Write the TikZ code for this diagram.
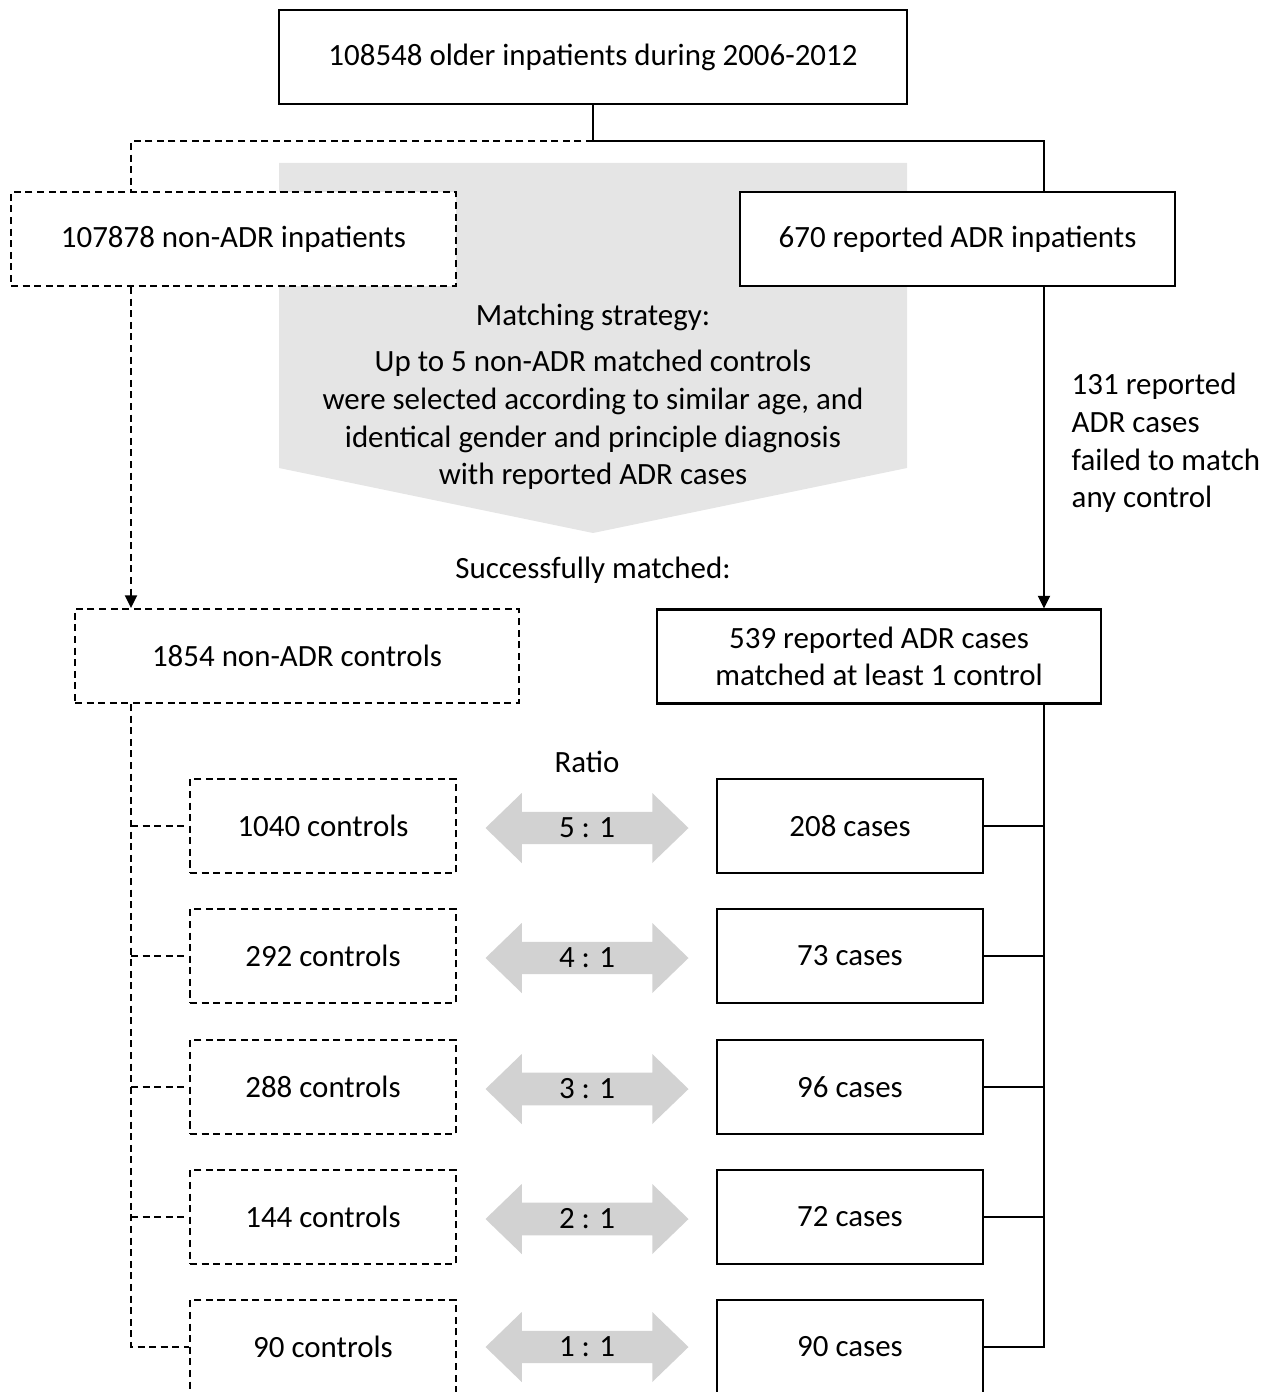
\documentclass[tikz,border=0pt]{standalone}
\usepackage{fontspec}
\setmainfont{Carlito}
\usetikzlibrary{positioning, arrows.meta, shapes.arrows}

\begin{document}
\begin{tikzpicture}[
    box/.style={draw, rectangle, fill=white, line width=0.6pt, minimum height=0.94cm, inner sep=0pt, align=center, font=\fontsize{8.8}{10.7}\selectfont},
    dbox/.style={box, dash pattern=on 2pt off 1.3pt},
    rowbox/.style={minimum width=2.66cm},
    conn/.style={line width=0.6pt},
    dconn/.style={conn, dash pattern=on 2pt off 1.3pt},
    tip/.style={-{Triangle[length=3.6pt, width=3.4pt]}},
    ratio/.style={double arrow, draw=none, fill=gray!35, minimum width=0.70cm, minimum height=2.03cm, double arrow head extend=0.125cm, double arrow tip angle=88, inner sep=0pt, font=\fontsize{8.8}{10.7}\selectfont},
    txt/.style={inner sep=0pt, align=center, font=\fontsize{8.8}{10.7}\selectfont},
]
\useasboundingbox (0,0) rectangle (12.77,-13.92);

% Matching strategy (grey block arrow behind the boxes)
\fill[gray!20] (2.79,-1.63) -- (9.07,-1.63) -- (9.07,-4.68) -- (5.93,-5.33) -- (2.79,-4.68) -- cycle;
\node[txt] (strat) at (5.93,-3.17) {Matching strategy:};
\node[txt] (rule) at (5.93,-4.20) {Up to 5 non-ADR matched controls\\were selected according to similar age, and\\identical gender and principle diagnosis\\with reported ADR cases};
\node[txt] (ok) at (5.93,-5.70) {Successfully matched:};

% Spine positions
\coordinate (lx) at (1.31,0);
\coordinate (rx) at (10.44,0);
\coordinate (split) at (5.93,-1.41);

% Top part
\node[box, minimum width=6.28cm] (all) at (5.93,-0.57) {108548 older inpatients during 2006-2012};
\node[dbox, minimum width=4.45cm] (nonadr) at (2.335,-2.39) {107878 non-ADR inpatients};
\node[box, minimum width=4.35cm] (adrin) at (9.575,-2.39) {670 reported ADR inpatients};

\draw[conn] (all.south) -- (split) -| (adrin.north -| rx);
\draw[dconn] (split) -| (nonadr.north -| lx);

% Matched groups
\node[dbox, minimum width=4.44cm] (ctrl) at (2.97,-6.56) {1854 non-ADR controls};
\node[box, minimum width=4.44cm] (match) at (8.79,-6.565) {539 reported ADR cases\\matched at least 1 control};

\draw[dconn, tip] (nonadr.south -| lx) -- (ctrl.north -| lx);
\draw[conn, tip] (adrin.south -| rx) -- (match.north -| rx);
\node[txt, anchor=west] (fail) at (10.71,-4.43) [align=left] {131 reported\\ADR cases\\failed to match\\any control};

% Ratio rows
\node[txt] (ratiolbl) at (5.87,-7.62) {Ratio};

\node[dbox, rowbox] (c1) at (3.23,-8.26) {1040 controls};
\node[ratio] (r1) at (5.87,-8.28) {5 : 1};
\node[box, rowbox] (k1) at (8.50,-8.26) {208 cases};

\node[dbox, rowbox] (c2) at (3.23,-9.56) {292 controls};
\node[ratio] (r2) at (5.87,-9.58) {4 : 1};
\node[box, rowbox] (k2) at (8.50,-9.56) {73 cases};

\node[dbox, rowbox] (c3) at (3.23,-10.87) {288 controls};
\node[ratio] (r3) at (5.87,-10.89) {3 : 1};
\node[box, rowbox] (k3) at (8.50,-10.87) {96 cases};

\node[dbox, rowbox] (c4) at (3.23,-12.17) {144 controls};
\node[ratio] (r4) at (5.87,-12.19) {2 : 1};
\node[box, rowbox] (k4) at (8.50,-12.17) {72 cases};

\node[dbox, rowbox] (c5) at (3.23,-13.47) {90 controls};
\node[ratio] (r5) at (5.87,-13.47) {1 : 1};
\node[box, rowbox] (k5) at (8.50,-13.47) {90 cases};

% Left (dashed) and right (solid) spines
\draw[dconn] (ctrl.south -| lx) |- (c5.west);
\draw[dconn] (c1.west -| lx) -- (c1.west);
\draw[dconn] (c2.west -| lx) -- (c2.west);
\draw[dconn] (c3.west -| lx) -- (c3.west);
\draw[dconn] (c4.west -| lx) -- (c4.west);

\draw[conn] (match.south -| rx) |- (k5.east);
\draw[conn] (k1.east) -- (k1.east -| rx);
\draw[conn] (k2.east) -- (k2.east -| rx);
\draw[conn] (k3.east) -- (k3.east -| rx);
\draw[conn] (k4.east) -- (k4.east -| rx);

\end{tikzpicture}
\end{document}
